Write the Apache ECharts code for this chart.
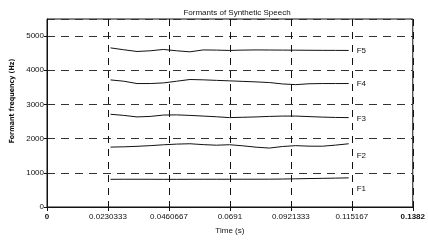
<!DOCTYPE html>
<html>
<head>
<meta charset="utf-8">
<script src="https://cdn.jsdelivr.net/npm/echarts@6/dist/echarts.min.js"></script>
<style>
  html, body { margin: 0; padding: 0; background: #fff; }
  #chart { width: 428px; height: 240px; }
</style>
</head>
<body>
<div id="chart"></div>
<script>
// frame times (s)
var times = [0.024, 0.029, 0.034, 0.039, 0.044, 0.049, 0.054, 0.059, 0.064, 0.069,
  0.074, 0.079, 0.084, 0.089, 0.094, 0.099, 0.104, 0.109, 0.114];
// formant tracks (Hz)
var f1 = [810, 812, 812, 811, 810, 810, 811, 812, 812, 812, 813, 813, 814, 818, 825, 832, 838, 845, 852];
var f2 = [1753, 1760, 1775, 1795, 1820, 1840, 1850, 1825, 1808, 1822, 1790, 1750, 1724, 1770, 1795, 1780, 1778, 1810, 1850];
var f3 = [2713, 2680, 2635, 2650, 2690, 2695, 2680, 2660, 2640, 2615, 2625, 2635, 2650, 2660, 2660, 2645, 2630, 2620, 2615];
var f4 = [3718, 3680, 3612, 3612, 3630, 3680, 3730, 3720, 3705, 3690, 3675, 3660, 3641, 3600, 3580, 3605, 3612, 3612, 3612];
var f5 = [4655, 4600, 4550, 4570, 4609, 4570, 4540, 4595, 4590, 4580, 4590, 4595, 4593, 4590, 4588, 4585, 4583, 4582, 4580];
var names = ['F1', 'F2', 'F3', 'F4', 'F5'];
var labelShift = [11, 12, 1, 0, 0];
var xTickLabels = ['0', '0.0230333', '0.0460667', '0.0691', '0.0921333', '0.115167', '0.1382'];

var xMax = 0.1382;
var xStep = xMax / 6;
var font = '"Liberation Sans", Arial, sans-serif';

function pairs(ys) {
  var out = [];
  for (var i = 0; i < times.length; i++) out.push([times[i], ys[i]]);
  return out;
}

var tracks = [f1, f2, f3, f4, f5];
var series = [];
for (var k = 0; k < tracks.length; k++) {
  series.push({
    type: 'line',
    name: names[k],
    data: pairs(tracks[k]),
    showSymbol: false,
    symbol: 'none',
    lineStyle: { color: '#111', width: 1 },
    endLabel: {
      show: true,
      formatter: names[k],
      distance: 8,
      offset: [0, labelShift[k]],
      color: '#111',
      fontSize: 8,
      fontFamily: font
    },
    z: 5,
    animation: false
  });
}

var chart = echarts.init(document.getElementById('chart'));
chart.setOption({
  animation: false,
  title: {
    text: 'Formants of Synthetic Speech',
    left: 232,
    textAlign: 'center',
    top: 4,
    textStyle: { fontSize: 8, fontWeight: 'normal', color: '#111', fontFamily: font }
  },
  grid: {
    left: 47, top: 19, right: 11, bottom: 28,
    show: true, borderColor: '#111', borderWidth: 1
  },
  xAxis: {
    type: 'value',
    min: 0,
    max: xMax,
    interval: xStep,
    name: 'Time (s)',
    nameLocation: 'middle',
    nameGap: 20,
    nameTextStyle: { fontSize: 8, color: '#111', fontFamily: font },
    axisLine: { lineStyle: { color: '#111' } },
    axisTick: { show: true, length: 4, lineStyle: { color: '#111' } },
    axisLabel: {
      fontSize: 8, color: '#111', fontFamily: font, margin: 6,
      formatter: function (v) {
        var i = Math.round(v / xStep);
        if (i === 0 || i === 6) return '{b|' + xTickLabels[i] + '}';
        return xTickLabels[i];
      },
      rich: { b: { fontSize: 8, fontWeight: 'bold', color: '#111', fontFamily: font } }
    },
    splitLine: { show: true, lineStyle: { color: '#111', type: [7, 6], width: 1 } }
  },
  yAxis: {
    type: 'value',
    min: 0,
    max: 5500,
    interval: 1000,
    name: 'Formant frequency (Hz)',
    nameLocation: 'middle',
    nameGap: 29,
    nameTextStyle: {
      fontSize: 7, fontWeight: 'bold', color: '#111',
      padding: [0, 0, 0, 24],
      fontFamily: '"Liberation Sans Narrow", "DejaVu Sans Condensed", "Liberation Sans", sans-serif'
    },
    axisLine: { show: true, lineStyle: { color: '#111' } },
    axisTick: { show: true, length: 3, lineStyle: { color: '#111' } },
    axisLabel: {
      fontSize: 8, color: '#111', fontFamily: font, margin: 3, showMaxLabel: false,
      formatter: function (v) { return String(v); }
    },
    splitLine: { show: true, lineStyle: { color: '#333', type: [8, 6], width: 1 } }
  },
  series: series
});
</script>
</body>
</html>
